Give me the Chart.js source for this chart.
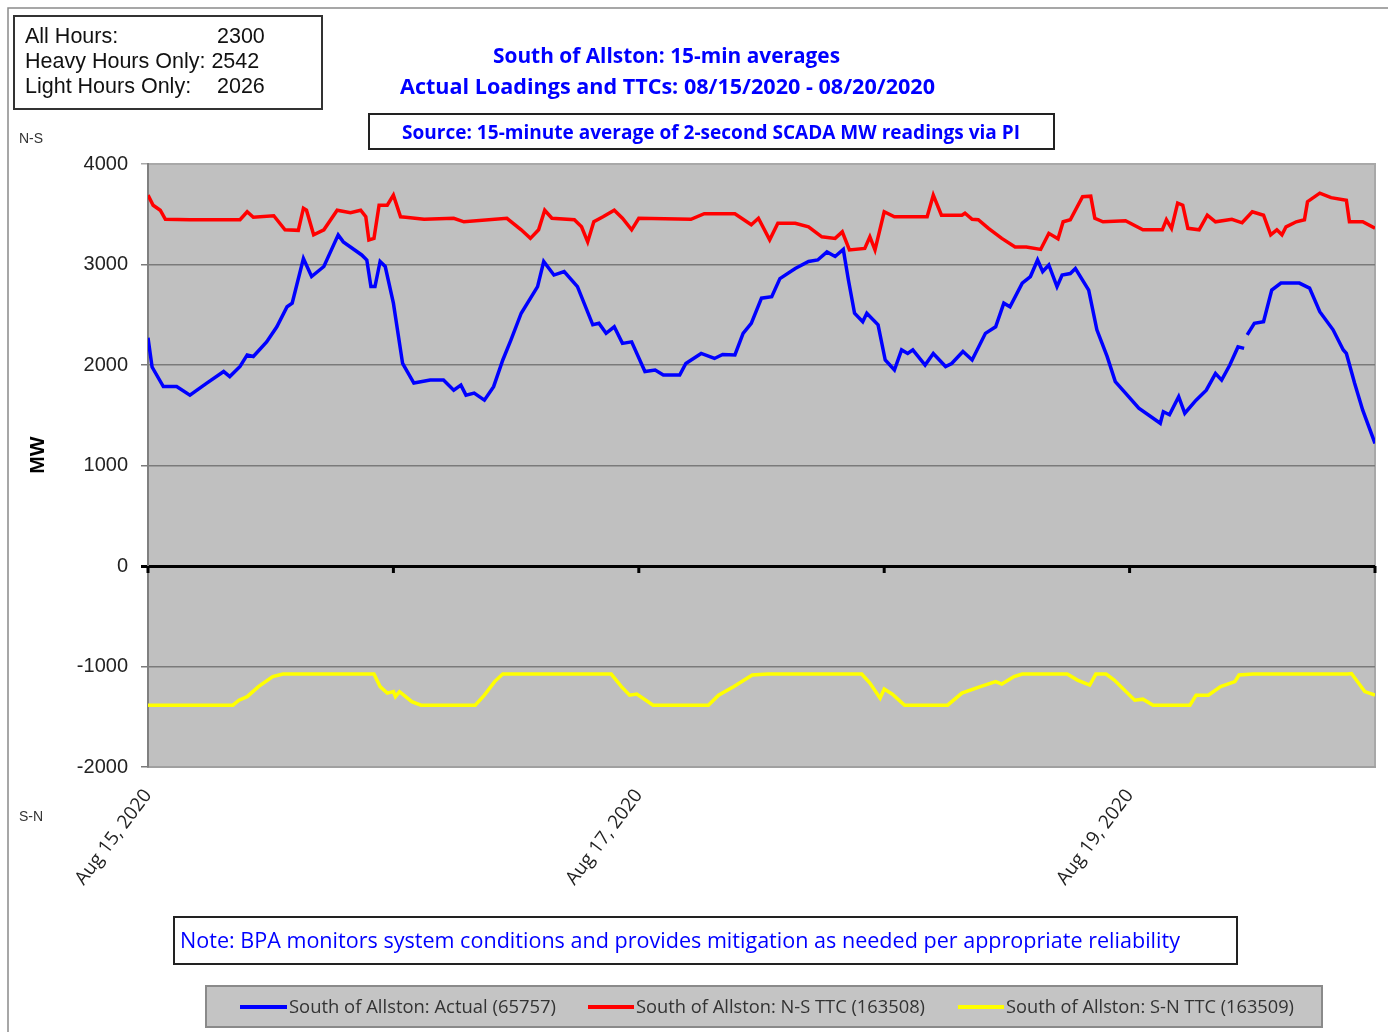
<!DOCTYPE html>
<html lang="en">
<head>
  <meta charset="UTF-8" />
  <title>South of Allston: 15-min averages</title>
  <script src="https://cdn.jsdelivr.net/npm/chart.js"></script>
  <style>
    body { margin: 0; background: #fff; }
    #wrap { width: 1388px; height: 1032px; position: relative; }
  </style>
</head>
<body>
  <div id="wrap"><canvas id="c"></canvas></div>
  <script>
    // hours from Aug 15 00:00 and MW values
    const actualHours = [0, 0.4, 1.5, 2.8, 4.1, 5.75, 7.4, 8.0, 9.0, 9.7, 10.3, 11.6, 12.6, 13.6, 14.1, 15.2, 16.0, 17.2, 18.6, 19.1,
      20.9, 21.4, 21.8, 22.2, 22.7, 23.2, 24.0, 24.9, 26.0, 27.6, 28.9, 29.9, 30.6, 31.1, 31.9, 32.9, 33.8, 34.7, 35.5, 36.5,
      38.1, 38.7, 39.7, 40.7, 42.0, 43.5, 44.1, 44.8, 45.6, 46.4, 47.3, 48.6, 49.6, 50.4, 52.0, 52.6, 54.1, 55.4, 56.2, 57.4,
      58.2, 59.0, 60.0, 61.0, 61.8, 63.3, 64.6, 65.5, 66.4, 67.2, 68.0, 68.5, 69.1, 69.9, 70.3, 71.4, 72.1, 73.0, 73.7, 74.3,
      74.8, 76.0, 76.8, 78.0, 78.6, 79.7, 80.6, 81.9, 82.9, 83.7, 84.3, 85.5, 86.3, 87.0, 87.5, 88.1, 88.9, 89.4, 90.2, 90.7,
      92.0, 92.8, 93.8, 94.6, 95.6, 96.9, 99.0, 99.3, 99.9, 100.8, 101.4, 102.5, 103.5, 104.4, 105.0, 105.8, 106.6, 107.2, 107.35, 107.5,
      108.2, 109.1, 109.9, 110.8, 112.6, 113.6, 114.6, 115.9, 116.9, 117.2, 118.0, 118.8, 120.0];
    const actualMW = [2270, 1980, 1785, 1785, 1700, 1820, 1935, 1885, 1985, 2100, 2085, 2230, 2380, 2580, 2615, 3060, 2880, 2980, 3295, 3225,
      3095, 3045, 2780, 2780, 3030, 2980, 2615, 2015, 1820, 1850, 1850, 1750, 1800, 1700, 1720, 1650, 1785, 2050, 2250, 2515,
      2780, 3030, 2895, 2930, 2780, 2400, 2415, 2315, 2380, 2215, 2230, 1935, 1950, 1900, 1900, 2015, 2115, 2065, 2105, 2100,
      2315, 2415, 2665, 2680, 2860, 2960, 3030, 3045, 3125, 3080, 3150, 2845, 2515, 2430, 2515, 2400, 2050, 1950, 2150, 2115,
      2150, 2000, 2115, 1985, 2015, 2135, 2050, 2315, 2380, 2615, 2580, 2815, 2880, 3045, 2930, 2995, 2780, 2895, 2910, 2960,
      2745, 2350, 2085, 1835, 1720, 1570, 1420, 1535, 1505, 1685, 1520, 1650, 1750, 1915, 1850, 2000, 2180, 2165, null, 2300,
      2415, 2430, 2745, 2815, 2815, 2765, 2530, 2350, 2150, 2115, 1820, 1550, 1220];

    const nsHours = [0, 0.5, 1.2, 1.7, 4.1, 9.0, 9.7, 10.3, 12.3, 13.4, 14.7, 15.2, 15.5, 16.2, 17.2, 18.5, 19.8, 20.8, 21.3, 21.6,
      22.1, 22.6, 23.4, 24.0, 24.7, 25.2, 27.0, 29.9, 30.9, 35.1, 36.5, 37.4, 38.2, 38.8, 39.5, 41.7, 42.4, 43.0, 43.6, 44.5,
      45.6, 46.4, 47.3, 48.0, 53.1, 54.4, 57.4, 59.0, 59.7, 60.8, 61.6, 63.3, 64.6, 65.9, 67.2, 67.9, 68.6, 70.1, 70.6, 71.1,
      72.0, 73.0, 76.2, 76.8, 77.6, 79.6, 79.9, 80.6, 81.2, 82.2, 83.5, 84.8, 85.9, 87.3, 88.1, 89.0, 89.5, 90.2, 91.4, 92.2,
      92.6, 93.4, 95.6, 97.3, 99.2, 99.6, 100.1, 100.7, 101.2, 101.7, 102.8, 103.6, 104.4, 106.0, 107.0, 108.0, 109.1, 109.8, 110.4, 110.9,
      111.3, 112.3, 113.1, 113.4, 114.6, 115.7, 117.2, 117.5, 118.8, 120.0];
    const nsMW = [3690, 3590, 3540, 3450, 3445, 3445, 3525, 3470, 3485, 3345, 3340, 3560, 3540, 3295, 3345, 3540, 3515, 3540, 3475, 3245,
      3260, 3590, 3590, 3690, 3475, 3470, 3450, 3460, 3425, 3460, 3345, 3260, 3345, 3540, 3460, 3445, 3375, 3225, 3425, 3475,
      3540, 3460, 3345, 3460, 3450, 3505, 3505, 3395, 3460, 3245, 3410, 3410, 3375, 3275, 3260, 3325, 3145, 3160, 3275, 3145,
      3525, 3475, 3475, 3690, 3490, 3490, 3510, 3450, 3445, 3360, 3260, 3175, 3175, 3150, 3310, 3255, 3425, 3445, 3675, 3680,
      3460, 3425, 3435, 3345, 3345, 3445, 3360, 3610, 3590, 3360, 3345, 3490, 3425, 3450, 3415, 3525, 3490, 3295, 3345, 3295,
      3375, 3425, 3445, 3625, 3710, 3665, 3640, 3425, 3425, 3360];

    const snHours = [0, 8.3, 8.9, 9.7, 10.8, 12.2, 13.2, 22.1, 22.7, 23.4, 24.0, 24.2, 24.6, 25.8, 26.7, 32.0, 32.9, 33.9, 34.7, 45.3,
      46.3, 47.1, 47.8, 49.4, 54.8, 55.8, 57.3, 59.1, 60.6, 69.8, 70.6, 71.6, 72.0, 72.8, 74.0, 78.2, 79.6, 81.4, 82.9, 83.5,
      84.7, 85.5, 89.9, 90.9, 92.1, 92.7, 93.7, 94.5, 96.5, 97.3, 98.3, 101.9, 102.5, 103.7, 104.9, 106.3, 106.7, 108.1, 117.3, 117.7,
      119.0, 120.0];
    const snMW = [-1385, -1385, -1335, -1300, -1200, -1100, -1075, -1075, -1200, -1265, -1250, -1300, -1250, -1350, -1385, -1385, -1285, -1150, -1075, -1075,
      -1200, -1285, -1275, -1385, -1385, -1285, -1200, -1085, -1075, -1075, -1165, -1315, -1225, -1275, -1385, -1385, -1265, -1200, -1150, -1175,
      -1100, -1075, -1075, -1135, -1185, -1075, -1075, -1135, -1335, -1325, -1385, -1385, -1285, -1285, -1200, -1150, -1085, -1075, -1075, -1070,
      -1250, -1285];

    const seriesNames = ['South of Allston: Actual (65757)', 'South of Allston: N-S TTC (163508)', 'South of Allston: S-N TTC (163509)'];
    const dayLabels = ['Aug 15, 2020', '', 'Aug 17, 2020', '', 'Aug 19, 2020', ''];
    const statLines = [['All Hours:', '2300'], ['Heavy Hours Only: 2542', ''], ['Light Hours Only:', '2026']];
    const titleLines = ['South of Allston: 15-min averages', 'Actual Loadings and TTCs: 08/15/2020 - 08/20/2020'];
    const sourceText = 'Source: 15-minute average of 2-second SCADA MW readings via PI';
    const noteText = 'Note: BPA monitors system conditions and provides mitigation as needed per appropriate reliability';

    const pts = (xs, ys) => xs.map((x, i) => ({ x: x, y: ys[i] }));

    // draw text squeezed/stretched to a given width
    function fitText(ctx, text, left, y, width) {
      const m = ctx.measureText(text).width;
      ctx.save();
      ctx.translate(left, y);
      ctx.scale(width / m, 1);
      ctx.textAlign = 'left';
      ctx.fillText(text, 0, 0);
      ctx.restore();
    }

    const decor = {
      id: 'decor',
      beforeDraw(chart) {
        const ctx = chart.ctx, a = chart.chartArea;
        ctx.save();
        ctx.fillStyle = '#fff';
        ctx.fillRect(0, 0, chart.width, chart.height);
        // outer frame
        ctx.strokeStyle = '#8a8a8a';
        ctx.lineWidth = 1.5;
        ctx.beginPath();
        ctx.moveTo(8, chart.height);
        ctx.lineTo(8, 8);
        ctx.lineTo(chart.width, 8);
        ctx.stroke();
        ctx.fillStyle = '#c0c0c0';
        ctx.fillRect(a.left, a.top, a.right - a.left, a.bottom - a.top);
        ctx.strokeStyle = '#a8a8a8';
        ctx.lineWidth = 2;
        ctx.strokeRect(a.left, a.top, a.right - a.left, a.bottom - a.top);
        ctx.restore();
      },
      afterDraw(chart) {
        const ctx = chart.ctx;
        const xs = chart.scales.x, ys = chart.scales.y;
        ctx.save();
        // tick marks on the zero line
        const y0 = ys.getPixelForValue(0);
        ctx.strokeStyle = '#000';
        ctx.lineWidth = 3;
        for (let h = 0; h <= 120; h += 24) {
          const px = xs.getPixelForValue(h);
          ctx.beginPath();
          ctx.moveTo(px, y0);
          ctx.lineTo(px, y0 + 7);
          ctx.stroke();
        }

        // stats box
        ctx.strokeStyle = '#333';
        ctx.lineWidth = 2;
        ctx.strokeRect(14, 16, 308, 93);
        ctx.fillStyle = '#111';
        ctx.font = '21.5px "Liberation Sans", Arial, sans-serif';
        ctx.textBaseline = 'alphabetic';
        ctx.textAlign = 'left';
        const base = [43, 68, 93];
        statLines.forEach((l, i) => {
          ctx.fillText(l[0], 25, base[i]);
          if (l[1]) ctx.fillText(l[1], 217, base[i]);
        });

        // N-S / S-N
        ctx.fillStyle = '#333';
        ctx.font = '14px "Liberation Sans", Arial, sans-serif';
        ctx.fillText('N-S', 19, 143);
        ctx.fillText('S-N', 19, 821);

        // MW
        ctx.save();
        ctx.translate(44, 455);
        ctx.rotate(-Math.PI / 2);
        ctx.fillStyle = '#000';
        ctx.font = 'bold 21px "Liberation Sans", Arial, sans-serif';
        ctx.textAlign = 'center';
        ctx.fillText('MW', 0, 0);
        ctx.restore();

        // titles
        ctx.fillStyle = '#0000ff';
        ctx.font = 'bold 21px "Open Sans", sans-serif';
        fitText(ctx, titleLines[0], 493, 63, 347);
        fitText(ctx, titleLines[1], 400, 94, 535);

        ctx.strokeStyle = '#222';
        ctx.lineWidth = 2;
        ctx.strokeRect(369, 114, 685, 35);
        ctx.font = 'bold 19px "Open Sans", sans-serif';
        fitText(ctx, sourceText, 402, 139, 618);

        ctx.strokeRect(174, 917, 1063, 47);
        ctx.font = '22px "Open Sans", sans-serif';
        fitText(ctx, noteText, 180, 948, 1000);

        // legend
        ctx.fillStyle = '#c4c4c4';
        ctx.fillRect(206, 986, 1116, 41);
        ctx.strokeStyle = '#8a8a8a';
        ctx.strokeRect(206, 986, 1116, 41);
        const items = [[240, 289, 267], [588, 636, 289], [958, 1006, 288]];
        ctx.font = '18px "Open Sans", sans-serif';
        chart.data.datasets.forEach((ds, i) => {
          const it = items[i];
          ctx.strokeStyle = ds.borderColor;
          ctx.lineWidth = 4;
          ctx.beginPath();
          ctx.moveTo(it[0], 1007);
          ctx.lineTo(it[1] - 2, 1007);
          ctx.stroke();
          ctx.fillStyle = '#333';
          fitText(ctx, ds.label, it[1], 1013, it[2]);
        });
        ctx.restore();
      }
    };

    new Chart(document.getElementById('c'), {
      type: 'line',
      data: {
        datasets: [
          { label: seriesNames[0], data: pts(actualHours, actualMW), borderColor: '#0000ff', borderWidth: 3.5, pointRadius: 0, spanGaps: false },
          { label: seriesNames[1], data: pts(nsHours, nsMW), borderColor: '#ff0000', borderWidth: 3.5, pointRadius: 0 },
          { label: seriesNames[2], data: pts(snHours, snMW), borderColor: '#ffff00', borderWidth: 3.5, pointRadius: 0 }
        ]
      },
      options: {
        responsive: true,
        maintainAspectRatio: false,
        animation: false,
        layout: { padding: { top: 164, right: 13, bottom: 0, left: 0 } },
        plugins: { legend: { display: false }, tooltip: { enabled: false } },
        scales: {
          x: {
            type: 'linear',
            min: 0,
            max: 120,
            afterFit: s => { s.height = 265; s.paddingLeft = 0; s.paddingRight = 0; },
            grid: { display: false, drawTicks: false },
            border: { display: true, color: '#a0a0a0', width: 2 },
            ticks: {
              stepSize: 24,
              autoSkip: false,
              minRotation: 53,
              maxRotation: 53,
              padding: 18,
              color: '#222',
              font: { family: '"Open Sans", sans-serif', size: 19 },
              callback: v => dayLabels[Math.round(v / 24)]
            }
          },
          y: {
            min: -2000,
            max: 4000,
            afterFit: s => { s.width = 148; },
            grid: {
              color: c => c.tick.value === 0 ? '#000' : (c.tick.value === 4000 ? '#a8a8a8' : '#7a7a7a'),
              lineWidth: c => c.tick.value === 0 ? 3 : 1.5,
              tickLength: 7
            },
            border: { display: true, color: '#808080', width: 2 },
            ticks: {
              stepSize: 1000,
              padding: 13,
              color: '#222',
              font: { family: '"Liberation Sans", Arial, sans-serif', size: 20 },
              callback: v => String(v)
            }
          }
        }
      },
      plugins: [decor]
    });
  </script>
</body>
</html>
